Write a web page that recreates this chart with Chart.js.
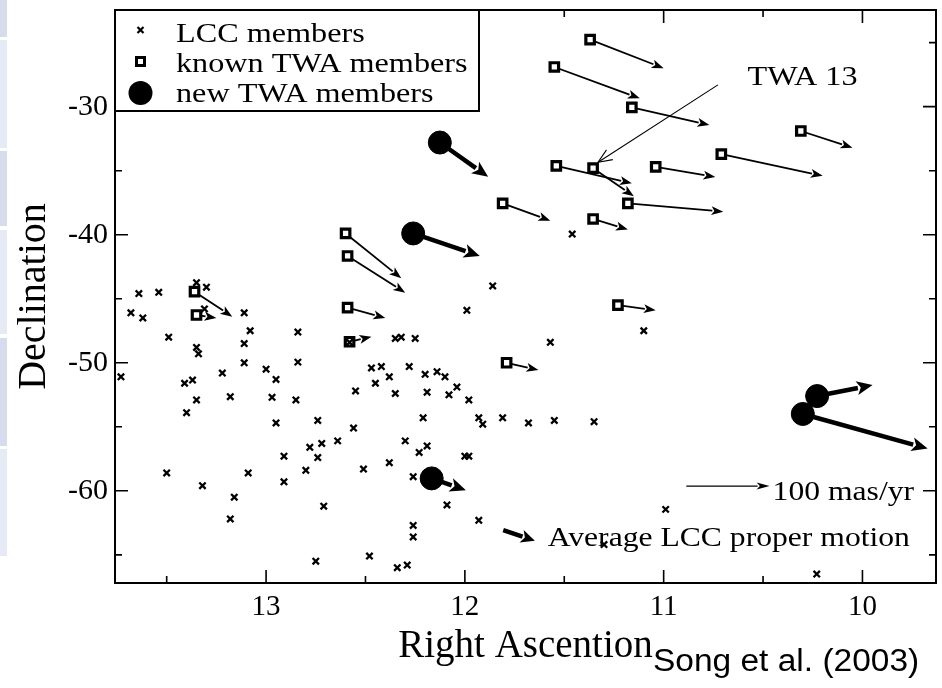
<!DOCTYPE html>
<html>
<head>
<meta charset="utf-8">
<script src="https://cdn.jsdelivr.net/npm/chart.js@4.4.0/dist/chart.umd.min.js"></script>
<style>
  html, body { margin: 0; padding: 0; background: #fff; }
  #wrap { width: 942px; height: 688px; }
</style>
</head>
<body>
<div id="wrap"><canvas id="c" width="942" height="688"></canvas></div>
<script>
// ---- data (RA in hours, Dec in degrees) ----
const lccRA = [13.64, 13.54, 13.35, 13.30, 13.68, 13.62, 13.31, 13.11, 13.08, 13.49,
  12.84, 13.35, 13.34, 13.11, 13.11, 12.84, 13.73, 13.41, 13.37, 13.22,
  13.00, 12.95, 13.35, 13.18, 12.97, 12.85, 13.40, 12.95, 12.74, 12.56,
  12.64, 12.72, 12.78, 12.74, 12.91, 12.80, 12.91, 13.50, 13.32, 13.09,
  13.16, 13.18, 12.71, 12.75, 12.48, 12.34, 12.29, 12.55, 12.51, 12.38,
  12.30, 12.26, 12.23, 12.19, 12.21, 12.19, 12.20, 12.28, 12.35, 12.38,
  12.45, 12.42, 12.47, 12.35, 12.32, 12.25, 12.14, 12.10, 12.08, 12.04,
  11.98, 11.93, 11.91, 11.81, 12.00, 11.98, 12.09, 11.93, 12.26, 12.26,
  11.86, 11.99, 11.10, 11.57, 11.68, 11.55, 11.35, 10.99, 11.30, 10.23,
  11.46, 12.58];
const lccDec = [-44.6, -44.5, -43.75, -44.1, -46.1, -46.5, -45.8, -46.1, -47.5, -48.0,
  -47.6, -48.8, -49.3, -48.5, -50.0, -49.95, -51.1, -51.6, -51.35, -50.8,
  -50.5, -51.3, -52.9, -52.65, -52.7, -52.9, -53.9, -54.7, -54.5, -55.1,
  -56.1, -56.3, -56.6, -57.4, -57.3, -58.4, -59.3, -58.6, -59.6, -58.6,
  -60.5, -62.2, -61.2, -65.5, -65.1, -66.0, -65.8, -52.2, -58.3, -57.8,
  -56.1, -58.9, -57.0, -56.5, -54.3, -52.3, -50.9, -50.3, -52.4, -51.1,
  -51.6, -50.3, -50.4, -48.1, -48.0, -48.1, -50.7, -51.1, -52.5, -51.9,
  -52.9, -54.3, -54.8, -54.3, -57.3, -57.3, -61.1, -62.3, -62.7, -63.6,
  -44.0, -45.9, -47.5, -48.4, -54.7, -54.5, -54.6, -61.45, -64.2, -66.5,
  -39.95, -48.4];

// known TWA members: position and where the proper-motion arrow ends
const knownRA  = [11.37, 11.55, 11.16, 10.31, 10.71, 11.54, 11.355, 11.04, 11.18, 11.81,
  11.355, 12.60, 12.59, 13.36, 13.35, 12.59, 12.58, 11.79, 11.23];
const knownDec = [-24.76, -26.9, -30.05, -31.9, -33.7, -34.63, -34.8, -34.7, -37.55, -37.55,
  -38.77, -39.9, -41.66, -44.45, -46.27, -45.7, -48.36, -50.0, -45.5];
const knownEndRA  = [11.00, 11.12, 10.77, 10.05, 10.20, 11.16, 11.15, 10.74, 10.70, 11.57,
  11.18, 12.32, 12.30, 13.17, 13.25, 12.40, 12.47, 11.63, 11.04];
const knownEndDec = [-27.0, -29.35, -31.43, -33.2, -35.4, -35.98, -37.0, -35.5, -38.2, -38.9,
  -39.6, -43.4, -44.53, -46.4, -46.5, -46.5, -47.97, -50.57, -45.9];

// new TWA members
const newRA  = [12.126, 12.26, 10.228, 10.30, 12.167];
const newDec = [-32.8, -39.9, -52.6, -54.0, -59.03];
const newEndRA  = [11.883, 11.925, 9.949, 9.672, 11.995];
const newEndDec = [-35.47, -41.66, -51.74, -56.7, -59.95];

// reference arrows
const avgLcc = [11.807, -63.07, 11.648, -63.9];
const scale100 = [10.886, -59.63, 10.467, -59.63];
const twa13Pointer = [10.727, -28.3, 11.33, -34.34];

const xTickVals = [13, 12, 11, 10];
const yTickVals = [-30, -40, -50, -60];

const SERIF = "'Liberation Serif', 'DejaVu Serif', serif";

function pts(xs, ys) { return xs.map((x, i) => ({ x: x, y: ys[i] })); }

function arrow(ctx, x1, y1, x2, y2, lw, hl, hw) {
  const a = Math.atan2(y2 - y1, x2 - x1);
  const bx = x2 - hl * Math.cos(a), by = y2 - hl * Math.sin(a);
  ctx.lineWidth = lw;
  ctx.beginPath(); ctx.moveTo(x1, y1); ctx.lineTo(bx + Math.cos(a), by + Math.sin(a)); ctx.stroke();
  ctx.beginPath();
  ctx.moveTo(x2, y2);
  ctx.lineTo(bx + hw * Math.sin(a), by - hw * Math.cos(a));
  ctx.lineTo(bx + 0.25 * hl * Math.cos(a), by + 0.25 * hl * Math.sin(a));
  ctx.lineTo(bx - hw * Math.sin(a), by + hw * Math.cos(a));
  ctx.closePath(); ctx.fill();
}

function wideText(ctx, txt, x, y, size, sx) {
  ctx.save();
  ctx.translate(x, y);
  ctx.scale(sx || 1.15, 1);
  ctx.font = size + "px " + SERIF;
  ctx.textAlign = "left";
  ctx.textBaseline = "alphabetic";
  ctx.fillText(txt, 0, 0);
  ctx.restore();
}

const figPlugin = {
  id: "fig",
  beforeDraw(chart) {
    const ctx = chart.ctx;
    ctx.save();
    ctx.fillStyle = "#fff";
    ctx.fillRect(0, 0, chart.width, chart.height);
    // slide thumbnails peeking in on the left
    const strips = [[0, 37, "#d6dcec"], [40, 148, "#e6eaf4"], [151, 226, "#d6dcec"],
      [230, 334, "#e6eaf4"], [338, 446, "#d6dcec"], [449, 556, "#e6eaf4"]];
    strips.forEach(s => { ctx.fillStyle = s[2]; ctx.fillRect(0, s[0], 7, s[1] - s[0]); });
    ctx.restore();
  },
  beforeDatasetsDraw(chart) {
    const ctx = chart.ctx, xs = chart.scales.x, ys = chart.scales.y;
    ctx.save();
    ctx.strokeStyle = "#000"; ctx.fillStyle = "#000"; ctx.lineCap = "butt";
    knownRA.forEach((ra, i) => {
      arrow(ctx, xs.getPixelForValue(ra), ys.getPixelForValue(knownDec[i]),
        xs.getPixelForValue(knownEndRA[i]), ys.getPixelForValue(knownEndDec[i]), 1.8, 12, 4.5);
    });
    newRA.forEach((ra, i) => {
      arrow(ctx, xs.getPixelForValue(ra), ys.getPixelForValue(newDec[i]),
        xs.getPixelForValue(newEndRA[i]), ys.getPixelForValue(newEndDec[i]), 4.5, 16, 7);
    });
    arrow(ctx, xs.getPixelForValue(avgLcc[0]), ys.getPixelForValue(avgLcc[1]),
      xs.getPixelForValue(avgLcc[2]), ys.getPixelForValue(avgLcc[3]), 4.5, 14, 6.5);
    ctx.restore();
  },
  afterDatasetsDraw(chart) {
    const ctx = chart.ctx, xs = chart.scales.x, ys = chart.scales.y;
    ctx.save();
    ctx.strokeStyle = "#000"; ctx.fillStyle = "#000";
    // 100 mas/yr scale arrow
    arrow(ctx, xs.getPixelForValue(scale100[0]), ys.getPixelForValue(scale100[1]),
      xs.getPixelForValue(scale100[2]), ys.getPixelForValue(scale100[3]), 1.2, 13, 3.5);
    // TWA 13 pointer with open head
    const px1 = xs.getPixelForValue(twa13Pointer[0]), py1 = ys.getPixelForValue(twa13Pointer[1]);
    const px2 = xs.getPixelForValue(twa13Pointer[2]), py2 = ys.getPixelForValue(twa13Pointer[3]);
    const a = Math.atan2(py2 - py1, px2 - px1);
    ctx.lineWidth = 1.1;
    ctx.beginPath(); ctx.moveTo(px1, py1); ctx.lineTo(px2, py2); ctx.stroke();
    ctx.beginPath();
    ctx.moveTo(px2 - 15 * Math.cos(a - 0.4), py2 - 15 * Math.sin(a - 0.4));
    ctx.lineTo(px2, py2);
    ctx.lineTo(px2 - 15 * Math.cos(a + 0.4), py2 - 15 * Math.sin(a + 0.4));
    ctx.stroke();
    wideText(ctx, "TWA 13", xs.getPixelForValue(10.578), ys.getPixelForValue(-28.3), 28);
    wideText(ctx, "100 mas/yr", xs.getPixelForValue(10.452), ys.getPixelForValue(-60.7), 27.5);
    wideText(ctx, "Average LCC proper motion", xs.getPixelForValue(11.583), ys.getPixelForValue(-64.33), 27.5);
    ctx.restore();
  },
  afterDraw(chart) {
    const ctx = chart.ctx, ca = chart.chartArea, xs = chart.scales.x, ys = chart.scales.y;
    ctx.save();
    ctx.strokeStyle = "#000"; ctx.fillStyle = "#000";
    // frame
    ctx.lineWidth = 2;
    ctx.strokeRect(ca.left, ca.top, ca.right - ca.left, ca.bottom - ca.top);
    // inward ticks on all four sides
    ctx.lineWidth = 1.6;
    const xMinor = [xTickVals[0] + 1].concat(xTickVals).map(v => v - 0.5);
    const yMinor = [yTickVals[0] + 10].concat(yTickVals).map(v => v - 5);
    function xt(v, len) {
      const p = xs.getPixelForValue(v);
      if (p < ca.left || p > ca.right) return;
      ctx.beginPath();
      ctx.moveTo(p, ca.bottom); ctx.lineTo(p, ca.bottom - len);
      ctx.moveTo(p, ca.top); ctx.lineTo(p, ca.top + len);
      ctx.stroke();
    }
    function yt(v, len) {
      const p = ys.getPixelForValue(v);
      if (p < ca.top || p > ca.bottom) return;
      ctx.beginPath();
      ctx.moveTo(ca.left, p); ctx.lineTo(ca.left + len, p);
      ctx.moveTo(ca.right, p); ctx.lineTo(ca.right - len, p);
      ctx.stroke();
    }
    xTickVals.forEach(v => xt(v, 13));
    xMinor.forEach(v => xt(v, 7));
    yTickVals.forEach(v => yt(v, 13));
    yMinor.forEach(v => yt(v, 7));

    // legend box inside the top-left corner
    const lx = ca.left, ly = ca.top, lw = 364, lh = 101;
    ctx.fillStyle = "#fff";
    ctx.fillRect(lx, ly, lw, lh);
    ctx.lineWidth = 2;
    ctx.strokeRect(lx, ly, lw, lh);
    ctx.fillStyle = "#000";
    const mx = lx + 25.5;
    // cross
    ctx.lineWidth = 2.2;
    ctx.beginPath();
    ctx.moveTo(mx - 3, ly + 17); ctx.lineTo(mx + 3, ly + 23);
    ctx.moveTo(mx + 3, ly + 17); ctx.lineTo(mx - 3, ly + 23);
    ctx.stroke();
    // square
    ctx.lineWidth = 3;
    ctx.fillStyle = "#fff";
    ctx.fillRect(mx - 4, ly + 47.5, 8, 8);
    ctx.strokeRect(mx - 4, ly + 47.5, 8, 8);
    ctx.fillStyle = "#000";
    // circle
    ctx.beginPath(); ctx.arc(mx, ly + 83, 12, 0, Math.PI * 2); ctx.fill();
    wideText(ctx, "LCC members", lx + 61, ly + 31.5, 28);
    wideText(ctx, "known TWA members", lx + 61, ly + 61.5, 28);
    wideText(ctx, "new TWA members", lx + 61, ly + 91.5, 28);

    // credit line
    ctx.save();
    ctx.translate(653, 671);
    ctx.scale(1.08, 1);
    ctx.font = "31px 'Liberation Sans', Arial, sans-serif";
    ctx.textBaseline = "alphabetic";
    ctx.fillText("Song et al. (2003)", 0, 0);
    ctx.restore();
    ctx.restore();
  }
};

new Chart(document.getElementById("c"), {
  type: "scatter",
  data: {
    datasets: [
      {
        label: "LCC members",
        data: pts(lccRA, lccDec),
        pointStyle: "crossRot",
        pointRadius: 4.5,
        borderWidth: 2.3,
        borderColor: "#000",
        backgroundColor: "#000"
      },
      {
        label: "known TWA members",
        data: pts(knownRA, knownDec),
        pointStyle: "rect",
        pointRadius: 6,
        borderWidth: 3.2,
        borderColor: "#000",
        backgroundColor: "#fff"
      },
      {
        label: "new TWA members",
        data: pts(newRA, newDec),
        pointStyle: "circle",
        pointRadius: 11.5,
        borderWidth: 1,
        borderColor: "#000",
        backgroundColor: "#000"
      }
    ]
  },
  options: {
    responsive: false,
    animation: false,
    events: [],
    layout: { autoPadding: false, padding: { top: 10, right: 6, left: 0, bottom: 0 } },
    plugins: {
      legend: { display: false },
      tooltip: { enabled: false }
    },
    scales: {
      x: {
        type: "linear",
        reverse: true,
        min: 9.63,
        max: 13.76,
        afterBuildTicks: s => { s.ticks = xTickVals.map(v => ({ value: v })); },
        afterFit: s => { s.height = 105; s.paddingLeft = 0; s.paddingRight = 0; },
        grid: { display: false, drawTicks: false },
        border: { display: false },
        ticks: { color: "#000", padding: 7, font: { family: SERIF, size: 29 }, callback: v => String(v) },
        title: {
          display: true, text: "Right Ascention", color: "#000",
          font: { family: SERIF, size: 39 }, padding: { top: 0, bottom: 18 }
        }
      },
      y: {
        type: "linear",
        min: -67.2,
        max: -22.45,
        afterBuildTicks: s => { s.ticks = yTickVals.map(v => ({ value: v })); },
        afterFit: s => { s.width = 115; s.paddingTop = 0; s.paddingBottom = 0; },
        grid: { display: false, drawTicks: false },
        border: { display: false },
        ticks: { color: "#000", padding: 7, font: { family: SERIF, size: 30 }, callback: v => String(v) },
        title: {
          display: true, text: "Declination", color: "#000",
          font: { family: SERIF, size: 40 }, padding: { top: 10, bottom: 0 }
        }
      }
    }
  },
  plugins: [figPlugin]
});
</script>
</body>
</html>
